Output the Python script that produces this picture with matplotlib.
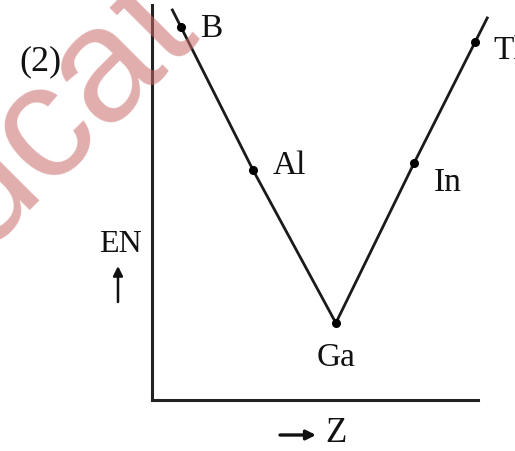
import matplotlib.pyplot as plt
import numpy as np

# group 13 elements, schematic EN vs Z
elements = ['B', 'Al', 'Ga', 'In', 'Tl']
z_pos = [0.89, 3.10, 5.64, 8.04, 9.91]
en_val = [9.44, 5.82, 1.95, 6.00, 9.06]

# label offsets (points) for each element
label_off = [(22, -1), (26, 3), (0, -25), (24, -14), (24, -6)]

plt.rcParams['font.family'] = ['Liberation Serif', 'DejaVu Serif']

W, H = 515, 451
fig = plt.figure(figsize=(W / 100, H / 100), dpi=100)
ax = fig.add_axes([152 / W, 51 / H, 326 / W, 395 / H])
ax.set_xlim(0, 10)
ax.set_ylim(0, 10)

for s in ['top', 'right']:
    ax.spines[s].set_visible(False)
for s in ['left', 'bottom']:
    ax.spines[s].set_linewidth(2.2)
    ax.spines[s].set_color('#222222')
ax.set_xticks([])
ax.set_yticks([])

x = np.array(z_pos)
y = np.array(en_val)

# extend the line a bit past B and Tl, as in the drawing
x0 = x[0] - 0.12 * (x[1] - x[0])
y0 = y[0] - 0.12 * (y[1] - y[0])
x1 = x[-1] + 0.2 * (x[-1] - x[-2])
y1 = y[-1] + 0.2 * (y[-1] - y[-2])
lx = np.concatenate([[x0], x, [x1]])
ly = np.concatenate([[y0], y, [y1]])
ax.plot(lx, ly, color='#1a1a1a', lw=2.0, clip_on=False)
ax.plot(x, y, 'o', color='black', ms=5.5, clip_on=False)

for el, xi, yi, off in zip(elements, x, y, label_off):
    ax.annotate(el, (xi, yi), xytext=off, textcoords='offset points',
                ha='center', va='center', fontsize=24, color='#111111',
                annotation_clip=False)

def fpos(px, py):
    return (px / W, 1 - py / H)

fig.text(*fpos(40, 62), '(2)', fontsize=26, ha='center', va='center', color='#111111')
fig.text(*fpos(120, 244), 'EN', fontsize=23, ha='center', va='center', color='#111111')
ax.annotate('', xy=fpos(118, 266), xytext=fpos(118, 302), xycoords='figure fraction',
            textcoords='figure fraction',
            arrowprops=dict(arrowstyle='-|>', lw=1.8, color='#111111', mutation_scale=14,
                            shrinkA=0, shrinkB=0))
ax.annotate('', xy=fpos(316, 435), xytext=fpos(280, 435), xycoords='figure fraction',
            textcoords='figure fraction',
            arrowprops=dict(arrowstyle='-|>', lw=2.4, color='#111111', mutation_scale=14,
                            shrinkA=0, shrinkB=0))
fig.text(*fpos(336, 433), 'Z', fontsize=25, ha='center', va='center', color='#111111')

# watermark
fig.text(-20 / W, 1 - 250 / H, 'ucat', fontsize=118, family='Liberation Sans',
         rotation=45, rotation_mode='anchor', ha='left', va='baseline',
         color='#c96a6a', alpha=0.55, zorder=10)

fig.savefig('out.png', dpi=100)
